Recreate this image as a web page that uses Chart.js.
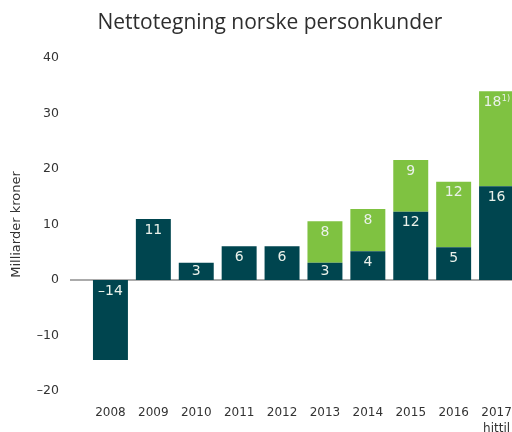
<!DOCTYPE html>
<html><head><meta charset="utf-8">
<script src="https://cdn.jsdelivr.net/npm/chart.js@4/dist/chart.umd.min.js"></script>
<style>
html,body{margin:0;padding:0;overflow:hidden;background:#fff;width:512px;height:432px}
#wrap{position:relative;width:520px;height:432px}
#title{position:absolute;left:0;top:11px;width:540px;text-align:center;font-size:21px;line-height:21px;font-family:"Open Sans";color:#2e2e2e;white-space:nowrap}
canvas{display:block}
</style></head><body>
<div id="wrap"><canvas id="c" width="520" height="432"></canvas><div id="title">Nettotegning norske personkunder</div></div>
<script>
const categories = [['2008'],['2009'],['2010'],['2011'],['2012'],['2013'],['2014'],['2015'],['2016'],['2017','hittil']];
const darkValues  = [-14.4, 11.0, 3.1, 6.1, 6.1, 3.1, 5.2, 12.3, 5.9, 16.9];
const greenValues = [null, null, null, null, null, 7.5, 7.6, 9.3, 11.8, 17.1];
const darkLabels  = ['\u201314','11','3','6','6','3','4','12','5','16'];
const greenLabels = ['','','','','','8','8','9','12','18'];
const greenNotes  = ['','','','','','','','','','1)'];
const yTitle = 'Milliarder kroner';

const zeroLine = {
  id:'zeroLine',
  beforeDatasetsDraw(chart){
    const ctx = chart.ctx, y0 = chart.scales.y.getPixelForValue(0);
    ctx.save();
    ctx.strokeStyle = '#ababab'; ctx.lineWidth = 2;
    ctx.beginPath(); ctx.moveTo(70, y0); ctx.lineTo(chart.width, y0); ctx.stroke();
    ctx.restore();
  }
};

const barLabels = {
  id:'barLabels',
  afterDatasetsDraw(chart){
    const ctx = chart.ctx;
    ctx.save();
    ctx.fillStyle = '#eaf1ea';
    ctx.textBaseline = 'middle';
    chart.data.datasets.forEach((ds, di) => {
      const meta = chart.getDatasetMeta(di);
      meta.data.forEach((bar, i) => {
        const txt = ds.valueLabels[i];
        if (!txt) return;
        const note = ds.notes ? ds.notes[i] : '';
        const top = Math.min(bar.y, bar.base), bottom = Math.max(bar.y, bar.base);
        const y = Math.min(top + 11, (top + bottom) / 2);
        ctx.font = '14px "DejaVu Sans"';
        const w1 = ctx.measureText(txt).width;
        let w2 = 0;
        if (note) { ctx.font = '8px "DejaVu Sans"'; w2 = ctx.measureText(note).width; }
        const x0 = bar.x - (w1 + w2) / 2;
        ctx.textAlign = 'left';
        ctx.font = '14px "DejaVu Sans"';
        ctx.fillText(txt, x0, y);
        if (note) { ctx.font = '8px "DejaVu Sans"'; ctx.fillText(note, x0 + w1 + 0.5, y - 3); }
      });
    });
    ctx.restore();
  }
};

new Chart(document.getElementById('c'), {
  type:'bar',
  data:{
    labels: categories,
    datasets:[
      {data: darkValues, backgroundColor:'#00454f', valueLabels: darkLabels, barPercentage:0.815, categoryPercentage:1},
      {data: greenValues, backgroundColor:'#7fc241', valueLabels: greenLabels, notes: greenNotes, barPercentage:0.815, categoryPercentage:1}
    ]
  },
  options:{
    responsive:false, animation:false,
    layout:{padding:{top:58, right:2, left:0, bottom:0}},
    plugins:{legend:{display:false}, tooltip:{enabled:false}, title:{display:false}},
    scales:{
      x:{stacked:true, grid:{display:false, drawTicks:false}, border:{display:false},
         ticks:{padding:14, color:'#333', font:{family:'"DejaVu Sans"', size:12, lineHeight:1.333}, maxRotation:0, autoSkip:false},
         afterFit(s){ s.height = 41; s.paddingLeft = 0; s.paddingRight = 0; }},
      y:{stacked:true, min:-20, max:40, grid:{display:false, drawTicks:false}, border:{display:false},
         ticks:{stepSize:10, padding:30, color:'#333', font:{family:'"DejaVu Sans"', size:12.5},
                callback:v => v < 0 ? '\u2013' + Math.abs(v) : String(v)},
         title:{display:true, text:yTitle, color:'#333', font:{family:'"DejaVu Sans"', size:13}, padding:{top:9,bottom:0}},
         afterFit(s){ s.width = 89; }}
    }
  },
  plugins:[zeroLine, barLabels]
});
</script>
</body></html>
